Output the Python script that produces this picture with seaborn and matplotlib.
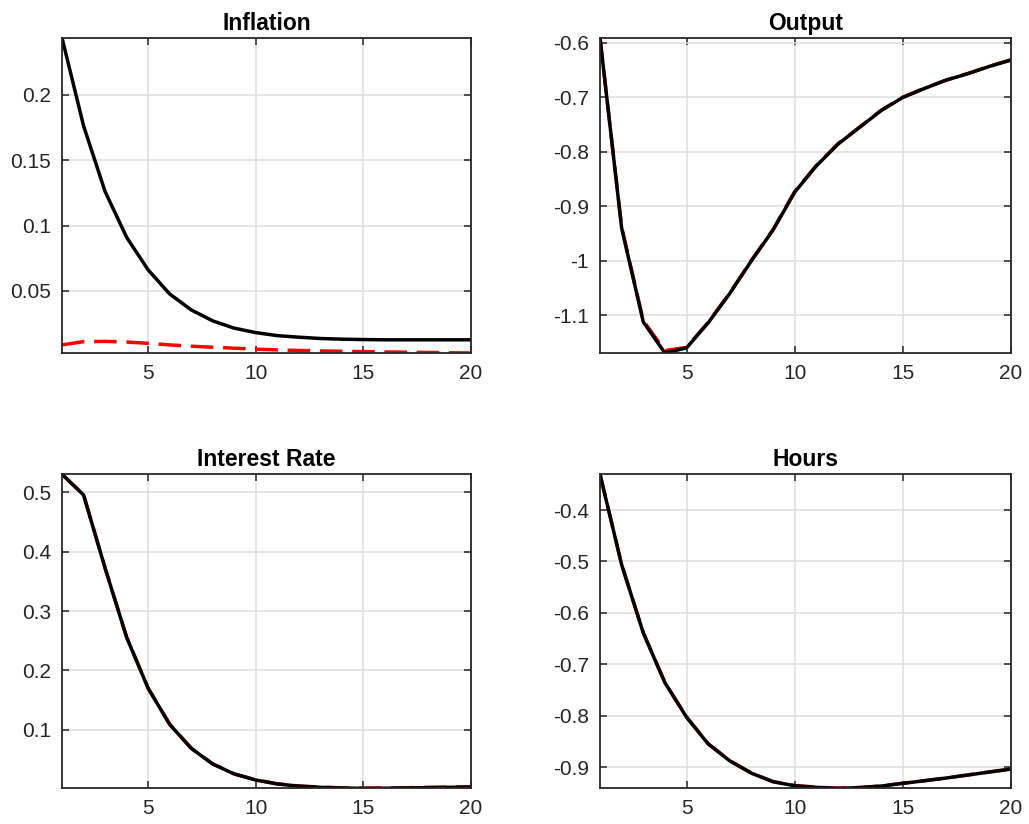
import numpy as np
import pandas as pd
import matplotlib
matplotlib.use('Agg')
import matplotlib.pyplot as plt
import seaborn as sns

# ── Impulse responses (horizon 1..20) ─────────────────────────────────────
horizon = list(range(1, 21))

inflation_base = [0.2436, 0.1763, 0.1260, 0.0910, 0.0660, 0.0476, 0.0354, 0.0270, 0.0214, 0.0180,
                  0.0157, 0.0145, 0.0135, 0.0130, 0.0127, 0.0125, 0.0125, 0.0125, 0.0125, 0.0125]
inflation_alt = [0.0086, 0.0111, 0.0113, 0.0108, 0.0098, 0.0086, 0.0076, 0.0068, 0.0061, 0.0053,
                 0.0048, 0.0043, 0.0040, 0.0037, 0.0035, 0.0032, 0.0030, 0.0028, 0.0026, 0.0024]

output_base = [-0.5908, -0.9400, -1.1123, -1.1694, -1.1600, -1.1140, -1.0600, -1.0000, -0.9435, -0.8740,
               -0.8258, -0.7858, -0.7550, -0.7240, -0.7000, -0.6835, -0.6683, -0.6565, -0.6430, -0.6313]
output_alt = [-0.5908, -0.9380, -1.1100, -1.1650, -1.1590, -1.1130, -1.0590, -0.9990, -0.9425, -0.8730,
              -0.8250, -0.7850, -0.7545, -0.7235, -0.6995, -0.6830, -0.6680, -0.6560, -0.6425, -0.6310]

interest_base = [0.5303, 0.4955, 0.3720, 0.2556, 0.1697, 0.1090, 0.0686, 0.0422, 0.0254, 0.0153,
                 0.0086, 0.0050, 0.0030, 0.0018, 0.0013, 0.0015, 0.0020, 0.0025, 0.0030, 0.0035]
interest_alt = [0.5303, 0.4955, 0.3725, 0.2560, 0.1700, 0.1093, 0.0690, 0.0425, 0.0257, 0.0156,
                0.0089, 0.0053, 0.0033, 0.0021, 0.0016, 0.0018, 0.0023, 0.0028, 0.0033, 0.0038]

hours_base = [-0.3305, -0.5064, -0.6390, -0.7360, -0.8030, -0.8550, -0.8880, -0.9120, -0.9286, -0.9364,
              -0.9395, -0.9414, -0.9400, -0.9370, -0.9317, -0.9267, -0.9214, -0.9156, -0.9097, -0.9040]
hours_alt = [-0.3305, -0.5060, -0.6385, -0.7355, -0.8025, -0.8545, -0.8876, -0.9116, -0.9282, -0.9360,
             -0.9392, -0.9411, -0.9398, -0.9368, -0.9315, -0.9265, -0.9212, -0.9154, -0.9095, -0.9038]

titles = ['Inflation', 'Output', 'Interest Rate', 'Hours']
yticks = [
    [0.05, 0.10, 0.15, 0.20],
    [-1.1, -1.0, -0.9, -0.8, -0.7, -0.6],
    [0.1, 0.2, 0.3, 0.4, 0.5],
    [-0.9, -0.8, -0.7, -0.6, -0.5, -0.4],
]
ytick_labels = [
    ['0.05', '0.1', '0.15', '0.2'],
    ['-1.1', '-1', '-0.9', '-0.8', '-0.7', '-0.6'],
    ['0.1', '0.2', '0.3', '0.4', '0.5'],
    ['-0.9', '-0.8', '-0.7', '-0.6', '-0.5', '-0.4'],
]
xticks = [5, 10, 15, 20]

series = [
    (inflation_base, inflation_alt),
    (output_base, output_alt),
    (interest_base, interest_alt),
    (hours_base, hours_alt),
]

# ── Style ──────────────────────────────────────────────────────────────────
sns.set_theme(style='whitegrid')
plt.rcParams['font.family'] = ['Liberation Sans', 'DejaVu Sans']

TXT = '#262626'

fig = plt.figure(figsize=(10.29, 8.24), dpi=100)

positions = [
    [0.0603, 0.5716, 0.3975, 0.3823],
    [0.5831, 0.5716, 0.3994, 0.3823],
    [0.0603, 0.0433, 0.3975, 0.3811],
    [0.5831, 0.0433, 0.3994, 0.3811],
]

for i in range(4):

    ax = fig.add_axes(positions[i])

    base, alt = series[i]

    df = pd.DataFrame({
        'h': horizon,
        'base': base,
        'alt': alt,
    })

    sns.lineplot(
        data=df, x='h', y='alt', ax=ax,
        color='#ff0000', lw=2.5,
        linestyle=(0, (6.5, 2.8)),
        estimator=None, sort=False,
    )

    sns.lineplot(
        data=df, x='h', y='base', ax=ax,
        color='black', lw=2.5,
        estimator=None, sort=False,
    )

    ax.set_xlim(horizon[0], horizon[-1])
    ax.set_ylim(
        min(min(base), min(alt)),
        max(max(base), max(alt))
    )

    ax.set_xticks(xticks)
    ax.set_xticklabels([str(t) for t in xticks])
    ax.set_yticks(yticks[i])
    ax.set_yticklabels(ytick_labels[i])

    ax.set_xlabel('')
    ax.set_ylabel('')

    ax.set_title(
        titles[i], fontsize=16.5, fontweight='bold',
        color='black', pad=6
    )

    ax.set_facecolor('white')
    ax.grid(True, color='#dedede', lw=1.1)

    for sp in ax.spines.values():
        sp.set_visible(True)
        sp.set_color(TXT)
        sp.set_linewidth(1.3)

    ax.tick_params(
        axis='both', which='both', direction='in',
        length=5, width=1.1, color=TXT,
        labelsize=15, labelcolor=TXT,
        top=True, right=True, bottom=True, left=True,
        pad=8
    )

fig.savefig('out.png', dpi=100, facecolor='white')
plt.close()
